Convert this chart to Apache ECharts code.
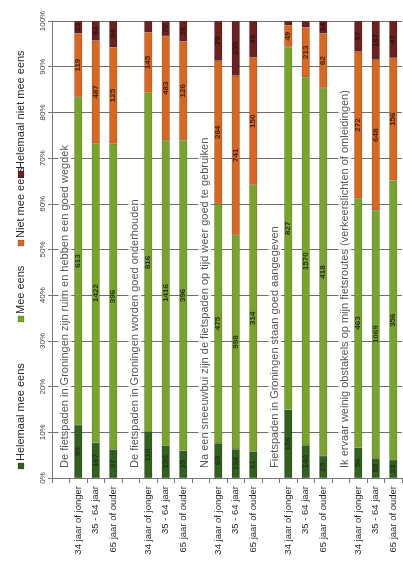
<!DOCTYPE html>
<html>
<head>
<meta charset="utf-8">
<script src="https://cdn.jsdelivr.net/npm/echarts@6/dist/echarts.min.js"></script>
<style>
  html, body { margin: 0; padding: 0; background: #fff; }
  #chart { width: 403px; height: 562px; }
</style>
</head>
<body>
<div id="chart"></div>
<script>
// Statements, each followed by three age groups
const statements = [
  'De fietspaden in Groningen zijn ruim en hebben een goed wegdek',
  'De fietspaden in Groningen worden goed onderhouden',
  'Na een sneeuwbui zijn de fietspaden op tijd weer goed te gebruiken',
  'Fietspaden in Groningen staan goed aangegeven',
  'Ik ervaar weinig obstakels op mijn fietsroutes (verkeerslichten of omleidingen)'
];
const ageGroups = ['34 jaar of jonger', '35 - 64 jaar', '65 jaar of ouder'];

// Number of respondents per answer (5 statements x 3 age groups)
const helemaalMeeEens     = [99, 167, 37,   110, 150, 35,   69, 134, 31,   156, 140, 25,   56, 85, 23];
const meeEens             = [613, 1422, 396, 816, 1416, 396, 475, 998, 314, 827, 1570, 418, 463, 1069, 356];
const nietMeeEens         = [119, 487, 125,  145, 483, 126,  284, 741, 150,  49, 213, 62,    272, 648, 156];
const helemaalNietMeeEens = [23, 93, 34,     27, 70, 26,     79, 255, 43,    10, 27, 14,     57, 167, 47];

const answerNames = ['Helemaal mee eens', 'Mee eens', 'Niet mee eens', 'Helemaal niet mee eens'];
const answerCounts = [helemaalMeeEens, meeEens, nietMeeEens, helemaalNietMeeEens];
const answerColors = ['#32601d', '#79a42c', '#d9671f', '#6c2020'];
const labelColors  = ['#1d3510', '#24360c', '#4a220a', '#3a0e0c'];

// Category slots: one blank slot (holding the statement text) before each trio of bars
const slotLabels = [];
const slotBar = [];   // index into the count arrays, or -1 for a statement slot
statements.forEach((s, g) => {
  slotLabels.push('');
  slotBar.push(-1);
  ageGroups.forEach((a, k) => {
    slotLabels.push(a);
    slotBar.push(g * 3 + k);
  });
});

const totals = helemaalMeeEens.map((_, i) => answerCounts.reduce((t, arr) => t + arr[i], 0));

const barSeries = answerNames.map((name, s) => ({
  name: name,
  type: 'bar',
  stack: 'answers',
  barWidth: 8,
  itemStyle: { color: answerColors[s], borderColor: 'rgba(0,0,0,0.3)', borderWidth: 0.5 },
  label: {
    show: true,
    position: 'inside',
    rotate: 90,
    fontSize: 8,
    fontWeight: 'bold',
    fontFamily: 'Liberation Sans Narrow, Liberation Sans, sans-serif',
    color: labelColors[s],
    formatter: p => (p.data && p.data.pct >= 2.5 ? String(p.data.count) : '')
  },
  data: slotBar.map(i => {
    if (i < 0) return '-';
    const c = answerCounts[s][i];
    const pct = c / totals[i] * 100;
    return { value: pct, count: c, pct: pct };
  })
}));

// Statement text, written upwards in the blank slot of each group
const statementSeries = {
  type: 'scatter',
  symbolSize: 0,
  silent: true,
  z: 3,
  label: {
    show: true,
    position: 'inside',
    rotate: 90,
    align: 'left',
    verticalAlign: 'middle',
    offset: [-2, 4],
    fontSize: 11,
    fontFamily: 'Liberation Sans, sans-serif',
    color: '#2a2a2a',
    backgroundColor: '#fff',
    padding: [1, 2],
    formatter: p => p.name
  },
  data: statements.map((s, g) => ({ name: s, value: [g * 4, 2.2] }))
};

// Legend drawn as rotated text along the left edge
const legendPos = [466, 319, 243, 174];
const legendGraphics = [];
answerNames.forEach((name, s) => {
  legendGraphics.push({
    type: 'rect',
    shape: { x: 18, y: legendPos[s] - 3, width: 6, height: 6 },
    style: { fill: answerColors[s], stroke: 'rgba(0,0,0,0.35)', lineWidth: 0.5 }
  });
  legendGraphics.push({
    type: 'text',
    x: 21, y: legendPos[s] - 5,
    rotation: Math.PI / 2,
    style: {
      text: name, fontSize: 11, fontFamily: 'Liberation Sans, sans-serif',
      fill: '#2a2a2a', align: 'left', verticalAlign: 'middle'
    }
  });
});

const chart = echarts.init(document.getElementById('chart'), null, { renderer: 'canvas' });
chart.setOption({
  animation: false,
  backgroundColor: '#fff',
  grid: { left: 52, right: 1, top: 21, bottom: 84 },
  xAxis: {
    type: 'category',
    data: slotLabels,
    axisLine: { lineStyle: { color: '#777' } },
    axisTick: { show: true, length: 5, lineStyle: { color: '#777' } },
    axisLabel: {
      rotate: 90, interval: 0, margin: 8, fontSize: 9.5,
      fontFamily: 'Liberation Sans, sans-serif', color: '#2a2a2a'
    }
  },
  yAxis: {
    type: 'value',
    min: 0, max: 100, interval: 10,
    axisLine: { show: true, lineStyle: { color: '#777' } },
    axisTick: { show: true, length: 4, lineStyle: { color: '#777' } },
    splitLine: { lineStyle: { color: '#6e6e6e', width: 1 } },
    axisLabel: {
      rotate: 90, margin: 5, fontSize: 8,
      fontFamily: 'Liberation Sans, sans-serif', color: '#444',
      formatter: '{value}%'
    }
  },
  graphic: legendGraphics,
  series: barSeries.concat([statementSeries])
});
</script>
</body>
</html>
